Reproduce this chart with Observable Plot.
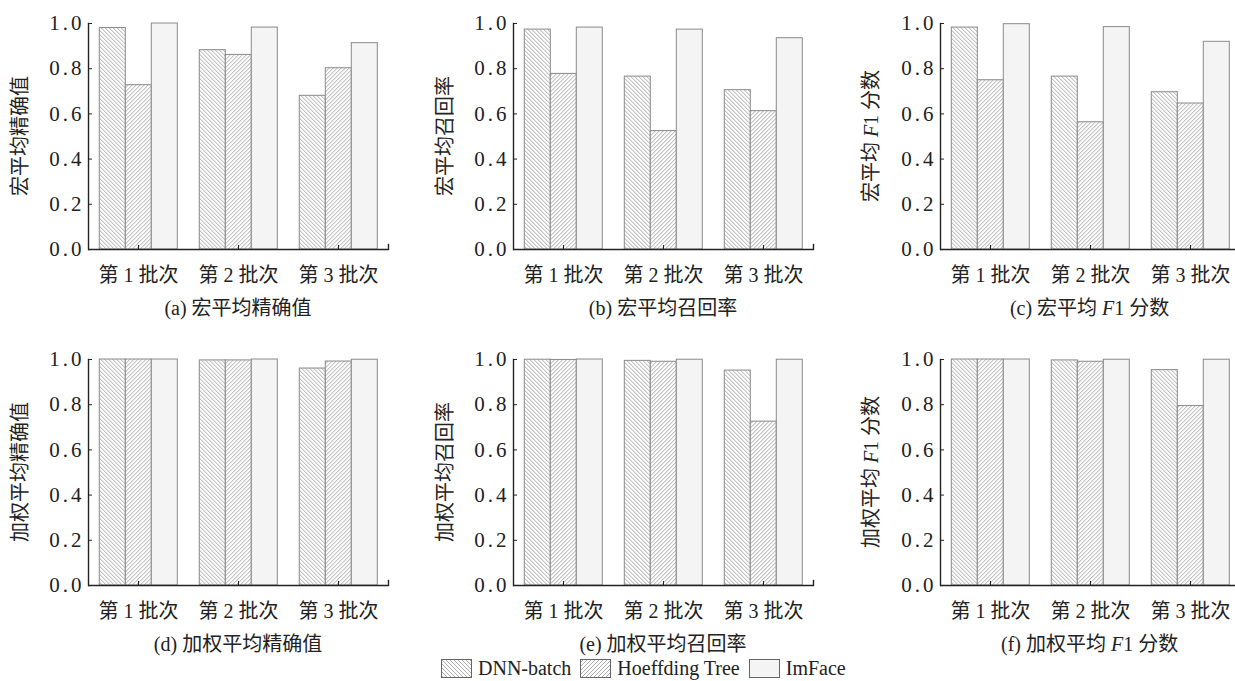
<!DOCTYPE html>
<html><head><meta charset="utf-8">
<script src="https://cdn.jsdelivr.net/npm/d3@7"></script>
<script src="https://cdn.jsdelivr.net/npm/@observablehq/plot@0.6"></script>
<style>
body{margin:0;background:#fff;}
#root{position:relative;width:1235px;height:681px;overflow:hidden;font-family:"Liberation Serif","Noto Sans CJK SC",serif;color:#222;}
.panel{position:absolute;width:420px;}
.panel svg{max-width:none !important;}
.ylab,.sub{position:absolute;font-size:20px;line-height:24px;text-align:center;white-space:nowrap;}
.ylab{width:220px;transform:rotate(-90deg);}
.sub{width:400px;}
.legend{position:absolute;left:441px;top:656px;display:flex;align-items:center;font-size:20px;line-height:24px;white-space:nowrap;}
.legend .sw{width:31px;height:19px;margin-right:6px;}
.legend .item{display:flex;align-items:center;margin-right:9px;}
[aria-label="y-axis tick label"] text{letter-spacing:3px}
</style></head>
<body><div id="root">
<svg width="0" height="0" style="position:absolute">
  <defs>
    <pattern id="hatch-dnn" patternUnits="userSpaceOnUse" width="4" height="4">
      <rect width="4" height="4" fill="#fcfcfc"/>
      <path d="M0,0L4,4M-1,3L1,5M3,-1L5,1" stroke="#8c8c8c" stroke-width="0.7"/>
    </pattern>
    <pattern id="hatch-hoef" patternUnits="userSpaceOnUse" width="4" height="4">
      <rect width="4" height="4" fill="#fcfcfc"/>
      <path d="M0,4L4,0M-1,1L1,-1M3,5L5,3" stroke="#8c8c8c" stroke-width="0.7"/>
    </pattern>
  </defs>
</svg>
</div>
<script>
const batches = ["第 1 批次", "第 2 批次", "第 3 批次"];
const models = ["DNN-batch", "Hoeffding Tree", "ImFace"];
const yTicks = [0, 0.2, 0.4, 0.6, 0.8, 1.0];

// rows = batches, columns = models (DNN-batch, Hoeffding Tree, ImFace)
const macroPrecision = [[0.980, 0.727, 1.000], [0.882, 0.861, 0.982], [0.680, 0.802, 0.913]];
const macroRecall    = [[0.973, 0.777, 0.982], [0.765, 0.524, 0.973], [0.705, 0.612, 0.935]];
const macroF1        = [[0.982, 0.749, 0.997], [0.765, 0.563, 0.984], [0.696, 0.646, 0.919]];
const weightedPrecision = [[1.000, 1.000, 1.000], [0.996, 0.996, 1.000], [0.960, 0.991, 0.999]];
const weightedRecall    = [[0.999, 0.998, 1.000], [0.994, 0.990, 0.999], [0.951, 0.725, 0.999]];
const weightedF1        = [[1.000, 1.000, 1.000], [0.996, 0.990, 0.999], [0.953, 0.794, 0.999]];

const yLabels = ["宏平均精确值", "宏平均召回率", "宏平均 F1 分数", "加权平均精确值", "加权平均召回率", "加权平均 F1 分数"];
const subTitles = ["(a) 宏平均精确值", "(b) 宏平均召回率", "(c) 宏平均 F1 分数", "(d) 加权平均精确值", "(e) 加权平均召回率", "(f) 加权平均 F1 分数"];
const panelValues = [macroPrecision, macroRecall, macroF1, weightedPrecision, weightedRecall, weightedF1];

const fills = ["url(#hatch-dnn)", "url(#hatch-hoef)", "#f4f4f4"];
const fontFamily = '"Liberation Serif","Noto Sans CJK SC",serif';

const colLeft = [0, 425, 851.6];
const rowTop = [0, 336.3];
const ML = 86.7, PW = 302.6, MT = 23, PH = 226, MB = 45;

function italicF(s) { return s.replace("F1", "<i>F</i>1"); }

function makePanel(values) {
  const data = [];
  batches.forEach((b, i) => models.forEach((m, j) => data.push({batch: b, model: m, value: values[i][j]})));
  return Plot.plot({
    width: ML + PW + 12, height: MT + PH + MB,
    marginLeft: ML, marginRight: 12, marginTop: MT, marginBottom: MB,
    style: {fontFamily, fontSize: "20px", color: "#222", background: "transparent", overflow: "visible"},
    fx: {domain: batches, paddingInner: 0, paddingOuter: 0, label: null},
    x: {domain: models, paddingInner: 0, paddingOuter: 0.372, axis: null},
    y: {domain: [0, 1], axis: null},
    color: {domain: models, range: fills},
    marks: [
      Plot.barY(data, {fx: "batch", x: "model", y: "value", fill: "model", stroke: "#8a8a8a", strokeWidth: 1}),
      Plot.ruleY([0], {stroke: "#222", strokeWidth: 1.4}),
      Plot.frame({anchor: "left", fx: batches[0], stroke: "#222", strokeWidth: 1.4}),
      Plot.frame({anchor: "right", fx: batches[batches.length - 1], insetTop: PH - 5, stroke: "#222", strokeWidth: 1.4}),
      Plot.axisY({ticks: yTicks, tickFormat: d3.format(".1f"), tickSize: -4, tickPadding: 8, fontSize: 21, stroke: "#222", label: null}),
      Plot.axisFx({anchor: "bottom", tickSize: -4, tickPadding: 22, fontSize: 20, stroke: "#222", label: null})
    ]
  });
}

const root = document.getElementById("root");
panelValues.forEach((vals, k) => {
  const r = Math.floor(k / 3), c = k % 3;
  const left = colLeft[c], top = rowTop[r];
  const div = document.createElement("div");
  div.className = "panel";
  div.style.left = left + "px";
  div.style.top = top + "px";
  div.appendChild(makePanel(vals));
  root.appendChild(div);

  const axisX = left + ML, axisTop = top + MT, axisBottom = top + MT + PH;
  const yl = document.createElement("div");
  yl.className = "ylab";
  yl.innerHTML = italicF(yLabels[k]);
  yl.style.left = (axisX - 67 - 110) + "px";
  yl.style.top = ((axisTop + axisBottom) / 2 - 12) + "px";
  root.appendChild(yl);

  const st = document.createElement("div");
  st.className = "sub";
  st.innerHTML = italicF(subTitles[k]);
  st.style.left = (axisX + PW / 2 - 200) + "px";
  st.style.top = (axisBottom + 59 - 12) + "px";
  root.appendChild(st);
});

const leg = document.createElement("div");
leg.className = "legend";
models.forEach((m, j) => {
  const it = document.createElement("div");
  it.className = "item";
  it.innerHTML = `<svg class="sw" width="31" height="19"><rect x="0.5" y="0.5" width="30" height="18" fill="${fills[j]}" stroke="#666"/></svg><span>${m}</span>`;
  leg.appendChild(it);
});
root.appendChild(leg);
</script>
</body></html>
